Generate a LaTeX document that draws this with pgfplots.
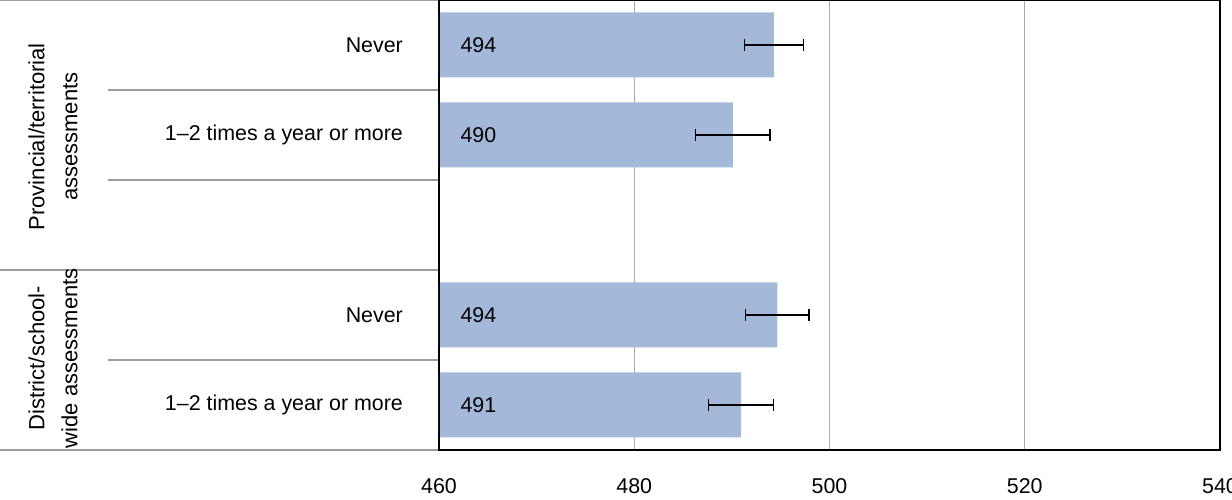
\documentclass[border=0pt]{standalone}
\usepackage{pgfplots}
\pgfplotsset{compat=1.18}
\usepackage{fontspec}
\setmainfont{Liberation Sans}
\definecolor{barblue}{HTML}{A4B8D9}
\definecolor{sepgray}{HTML}{9C9C9C}
\definecolor{gridgray}{HTML}{A8A8A8}
\begin{document}
\fontsize{10.7}{12.8}\selectfont
\begin{tikzpicture}
\begin{axis}[
  at={(0,0)}, anchor=south west,
  scale only axis, width=390.5pt, height=225pt,
  xmin=460, xmax=540, ymin=-0.5, ymax=4.5,
  xtick={460,480,500,520,540},
  ytick={0,1,3,4},
  yticklabels={1–2 times a year or more, Never, 1–2 times a year or more, Never},
  major tick length=0pt,
  xmajorgrids, grid style={gridgray, line width=0.6pt},
  axis line style={black, line width=1.4pt},
  /pgf/number format/assume math mode=true,
  tick label style={font=\fontsize{10.7}{12.8}\selectfont},
  xticklabel style={yshift=-10.5pt},
  yticklabel style={xshift=-14.3pt},
]
\addplot[xbar, bar width=32.5pt, fill=barblue, draw=none,
  error bars/.cd, x dir=both, x explicit,
  error bar style={black, line width=0.6pt},
  error mark options={rotate=90, mark size=2.8pt, line width=0.6pt, black}]
  coordinates {
  (494.3,4) +- (3.0,0)
  (490.1,3) +- (3.8,0)
  (494.65,1) +- (3.25,0)
  (490.95,0) +- (3.35,0)
};
\addplot[draw=none, mark=none, nodes near coords, point meta=explicit symbolic,
  nodes near coords style={anchor=west, xshift=7pt, text=black, font=\fontsize{10.7}{12.8}\selectfont}]
  coordinates {(460,4)[494] (460,3)[490] (460,1)[494] (460,0)[491]};
\draw[black, line width=1.4pt] (rel axis cs:0,0) rectangle (rel axis cs:1,1);
\coordinate (L45) at (axis cs:460,4.5);
\coordinate (L35) at (axis cs:460,3.5);
\coordinate (L25) at (axis cs:460,2.5);
\coordinate (L15) at (axis cs:460,1.5);
\coordinate (L05) at (axis cs:460,0.5);
\coordinate (Lm05) at (axis cs:460,-0.5);
\coordinate (G1) at (axis cs:460,2.98);
\coordinate (G2) at (axis cs:460,0.52);
\end{axis}
\draw[sepgray, line width=1pt] ([xshift=-219.5pt]L45) -- ([xshift=-0.7pt]L45);
\draw[sepgray, line width=1pt] ([xshift=-165.5pt]L35) -- ([xshift=-0.7pt]L35);
\draw[sepgray, line width=1pt] ([xshift=-165.5pt]L25) -- ([xshift=-0.7pt]L25);
\draw[sepgray, line width=1pt] ([xshift=-219.5pt]L15) -- ([xshift=-0.7pt]L15);
\draw[sepgray, line width=1pt] ([xshift=-165.5pt]L05) -- ([xshift=-0.7pt]L05);
\draw[sepgray, line width=1pt] ([xshift=-219.5pt]Lm05) -- ([xshift=-0.7pt]Lm05);
\node[rotate=90, align=center, inner sep=0pt, font=\fontsize{11}{16.5}\selectfont] at ([xshift=-193pt]G1) {Provincial/territorial\\assessments};
\node[rotate=90, align=center, inner sep=0pt, font=\fontsize{11}{16.5}\selectfont] at ([xshift=-193pt]G2) {District/school-\\wide assessments};
\pgfresetboundingbox
\path ([xshift=-219.5pt]L45) rectangle ([xshift=396.5pt,yshift=-25pt]Lm05);
\end{tikzpicture}
\end{document}
